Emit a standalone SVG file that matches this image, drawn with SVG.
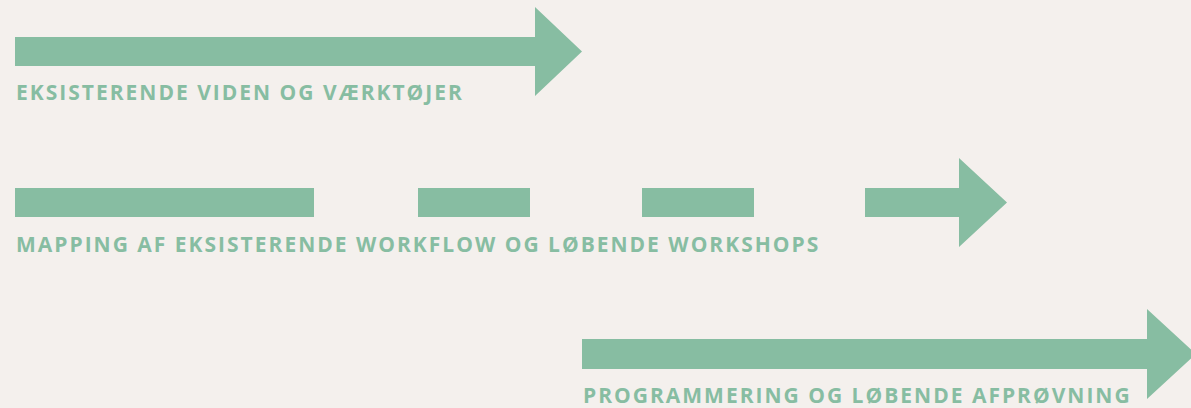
<svg xmlns="http://www.w3.org/2000/svg" width="1191" height="408" viewBox="0 0 1191 408">
<style>
.bar{fill:#87bda2}
.lbl{fill:#87bda2;font-family:"Open Sans","Liberation Sans",sans-serif;font-weight:700;font-size:21px;letter-spacing:2px}
</style>
<rect width="1191" height="408" fill="#f4f0ed"/>
<g id="connectors">
<g id="arrow1"><path class="bar" d="M15 37H535V7L582 51.5L535 96V66H15Z"/></g>
<g id="arrow2">
<rect class="bar" x="15" y="188" width="299" height="29"/>
<rect class="bar" x="418" y="188" width="112" height="29"/>
<rect class="bar" x="642" y="188" width="112" height="29"/>
<path class="bar" d="M865 188H959V158L1007 202.5L959 247V217H865Z"/>
</g>
<g id="arrow3"><path class="bar" d="M582 339H1147V309L1196 354L1147 399V369H582Z"/></g>
</g>
<g id="label1"><text class="lbl" x="16" y="100">EKSISTERENDE VIDEN OG VÆRKTØJER</text></g>
<g id="label2"><text class="lbl" x="16" y="252">MAPPING AF EKSISTERENDE WORKFLOW OG LØBENDE WORKSHOPS</text></g>
<g id="label3"><text class="lbl" x="583" y="403">PROGRAMMERING OG LØBENDE AFPRØVNING</text></g>
</svg>
